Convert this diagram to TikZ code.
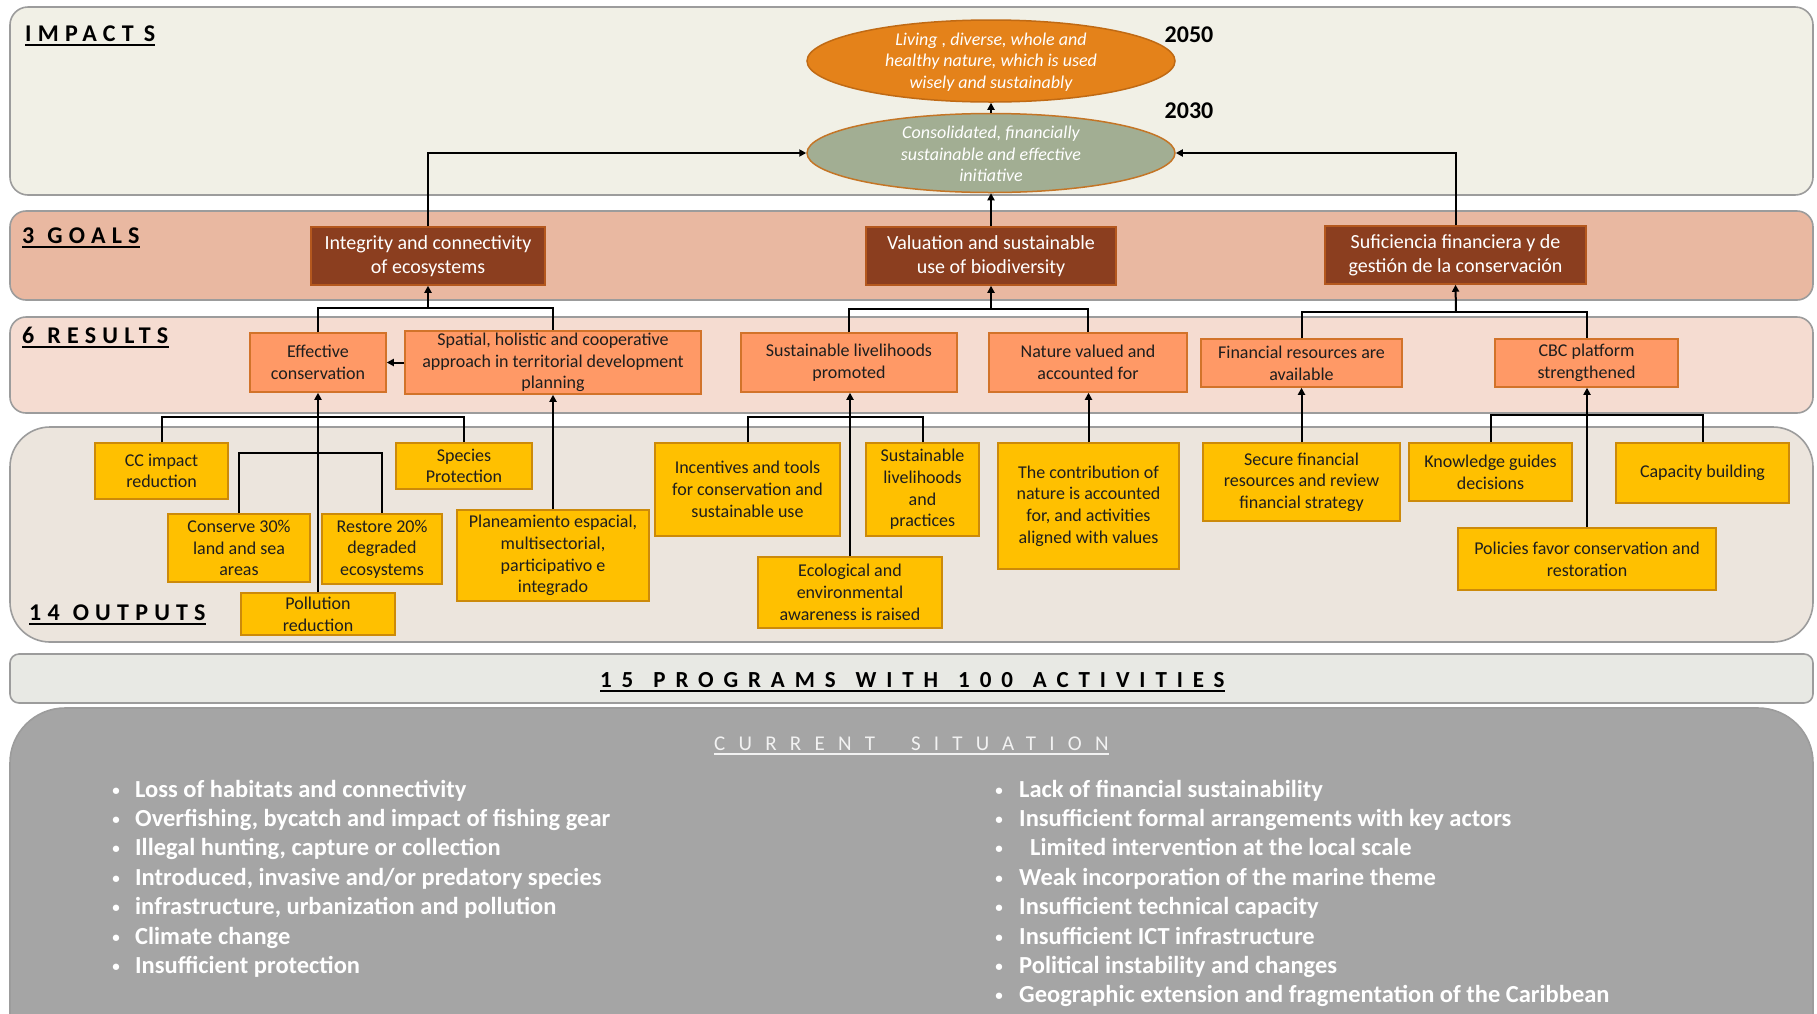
\documentclass[tikz,border=0pt]{standalone}
\usepackage{fontspec}
\setmainfont{Carlito}
\newfontfamily\tagfont[LetterSpace=26]{Carlito}
\newfontfamily\bandfont[LetterSpace=43]{Carlito}
\newfontfamily\sitfont[LetterSpace=63]{Carlito}
\usetikzlibrary{shapes.geometric,arrows.meta}

\definecolor{impactbg}{HTML}{F1F0E6}
\definecolor{goalbg}{HTML}{E9B8A1}
\definecolor{resultbg}{HTML}{F5DCD1}
\definecolor{outputbg}{HTML}{ECE5DD}
\definecolor{programbg}{HTML}{E8E9E4}
\definecolor{situationbg}{HTML}{A5A5A5}
\definecolor{panelline}{HTML}{9C9C9C}
\definecolor{goalfill}{HTML}{8B3E1F}
\definecolor{goalline}{HTML}{B4581E}
\definecolor{resultfill}{HTML}{FF9966}
\definecolor{resultline}{HTML}{D2732A}
\definecolor{outputfill}{HTML}{FFC000}
\definecolor{outputline}{HTML}{CC8A0A}
\definecolor{visionfill}{HTML}{E4821A}
\definecolor{visionline}{HTML}{C06A14}
\definecolor{missionfill}{HTML}{A2AE93}
\definecolor{missionline}{HTML}{C47526}
\definecolor{inktext}{HTML}{1E1E1E}
\definecolor{palewhite}{HTML}{F2F2F2}

% box from its corners: style, name, x1, y1, x2, y2, text
\newcommand{\placebox}[7]{%
  \node[#1, minimum width={#5-#3}, minimum height={#6-#4}] (#2)
    at ({(#3+#5)/2},{(#4+#6)/2}) {#7};}

\tikzset{
  panel/.style={draw=panelline, line width=1.6pt},
  tierlabel/.style={anchor=base west, inner sep=0pt, text=black,
    font=\tagfont\bfseries\fontsize{24}{28}\selectfont},
  ulrule/.style={line width=2pt},
  goalbox/.style={draw=goalline, fill=goalfill, line width=1.5pt, inner sep=0pt,
    align=center, text=white, font=\fontsize{20}{24}\selectfont},
  resultbox/.style={draw=resultline, fill=resultfill, line width=1.5pt, inner sep=0pt,
    align=center, text=inktext, font=\fontsize{18}{21.7}\selectfont},
  outputbox/.style={draw=outputline, fill=outputfill, line width=1.5pt, inner sep=0pt,
    align=center, text=inktext, font=\fontsize{18}{21.7}\selectfont},
  oval/.style={ellipse, line width=1.5pt, inner sep=0pt},
  ovaltext/.style={align=center, text=white, inner sep=0pt,
    font=\itshape\fontsize{18}{21.7}\selectfont},
  yearlabel/.style={inner sep=0pt, font=\bfseries\fontsize{24}{28}\selectfont},
  link/.style={line width=2pt, black},
  arr/.style={link, -{Triangle[length=7pt,width=7pt]}},
  bullettext/.style={anchor=base west, inner sep=0pt, text=white,
    font=\bfseries\fontsize{24.5}{29}\selectfont},
  bulletdot/.style={anchor=base, inner sep=0pt, text=white,
    font=\bfseries\fontsize{15}{15}\selectfont},
}

\begin{document}
\begin{tikzpicture}[x=1pt,y=-1pt]
\useasboundingbox[fill=white] (0,0) rectangle (1817,1013);

% ---------- horizontal bands ----------
\draw[panel, fill=impactbg, rounded corners=18] (10,7) rectangle (1813,195);
\draw[panel, fill=goalbg, rounded corners=16] (10,211) rectangle (1813,300);
\draw[panel, fill=resultbg, rounded corners=16] (10,317) rectangle (1813,413);
\draw[panel, fill=outputbg, rounded corners=40] (10,427) rectangle (1813,642);
\draw[panel, fill=programbg, rounded corners=9] (10,654) rectangle (1813,703);
\begin{scope}
  \clip (0,0) rectangle (1817,1013);
  \draw[panel, fill=situationbg, rounded corners=55] (10,708) rectangle (1813,1070);
\end{scope}

% ---------- band titles ----------
\node[tierlabel] (timp) at (25,41) {IMPACT\hspace{10pt}S};
\node[tierlabel] (tgoal) at (22,243) {3\hspace{13pt}GOALS};
\node[tierlabel] (tres) at (22,343) {6\hspace{13pt}RESULTS};
\node[tierlabel] (tout) at (29,620) {14\hspace{13pt}OUTPUTS};
\foreach \t in {timp,tgoal,tres,tout}
  \draw[ulrule] ([yshift=-4pt]\t.base west) -- ([yshift=-4pt]\t.base east);

\node[anchor=base west, inner sep=0pt, font=\bandfont\bfseries\fontsize{23}{27}\selectfont]
  (tprog) at (600,687)
  {15\hspace{20pt}PROGRAMS\hspace{20pt}WITH\hspace{20pt}100\hspace{20pt}ACTIVITIES};
\draw[ulrule] ([yshift=-4pt]tprog.base west) -- ([yshift=-4pt]tprog.base east);

\node[anchor=base west, inner sep=0pt, text=palewhite, font=\sitfont\fontsize{21}{25}\selectfont]
  (tsit) at (714,750) {CURRENT\hspace{36pt}SITUATION};
\draw[ulrule, palewhite] ([yshift=-4pt]tsit.base west) -- ([yshift=-4pt]tsit.base east);

% ---------- impacts ----------
\node[oval, fill=visionfill, draw=visionline, minimum width=368, minimum height=82]
  (vision) at (991,61) {};
\node[ovaltext] (visiontxt) at (991,62)
  {Living , diverse, whole and\\healthy nature, which is used\\wisely and sustainably};
\node[oval, fill=missionfill, draw=missionline, minimum width=368, minimum height=79]
  (mission) at (991,153) {};
\node[ovaltext] (missiontxt) at (991,154)
  {Consolidated, financially\\sustainable and effective\\initiative};
\node[yearlabel] (y2050) at (1189,35) {2050};
\node[yearlabel] (y2030) at (1189,111) {2030};

% ---------- goals ----------
\placebox{goalbox}{g1}{311}{227}{545}{285}{Integrity and connectivity\\of ecosystems}
\placebox{goalbox}{g2}{866}{227}{1116}{285}{Valuation and sustainable\\use of biodiversity}
\placebox{goalbox}{g3}{1325}{226}{1586}{284}{Suficiencia financiera y de\\gestión de la conservación}

% ---------- results ----------
\placebox{resultbox}{r1}{250}{333}{386}{392}{Effective\\conservation}
\placebox{resultbox}{r2}{405}{331}{701}{394}{Spatial, holistic and cooperative\\approach in territorial development\\planning}
\placebox{resultbox}{r3}{741}{333}{957}{392}{Sustainable livelihoods\\promoted}
\placebox{resultbox}{r4}{989}{333}{1187}{392}{Nature valued and\\accounted for}
\placebox{resultbox}{r5}{1201}{339}{1402}{387}{Financial resources are\\available}
\placebox{resultbox}{r6}{1495}{339}{1678}{387}{CBC platform\\strengthened}

% ---------- outputs ----------
\placebox{outputbox}{o1}{95}{443}{228}{499}{CC impact\\reduction}
\placebox{outputbox}{o2}{396}{443}{532}{489}{Species\\Protection}
\placebox{outputbox}{o3}{168}{514}{310}{582}{Conserve 30\%\\land and sea\\areas}
\placebox{outputbox}{o4}{322}{514}{442}{584}{Restore 20\%\\degraded\\ecosystems}
\placebox{outputbox}{o5}{241}{593}{395}{635}{Pollution\\reduction}
\placebox{outputbox}{o6}{457}{510}{649}{601}{Planeamiento espacial,\\multisectorial,\\participativo e\\integrado}
\placebox{outputbox}{o7}{655}{443}{840}{536}{Incentives and tools\\for conservation and\\sustainable use}
\placebox{outputbox}{o8}{866}{443}{979}{536}{Sustainable\\livelihoods\\and\\practices}
\placebox{outputbox}{o9}{758}{557}{942}{628}{Ecological and\\environmental\\awareness is raised}
\placebox{outputbox}{o10}{998}{443}{1179}{569}{The contribution of\\nature is accounted\\for, and activities\\aligned with values}
\placebox{outputbox}{o11}{1203}{443}{1400}{521}{Secure financial\\resources and review\\financial strategy}
\placebox{outputbox}{o12}{1409}{443}{1572}{501}{Knowledge guides\\decisions}
\placebox{outputbox}{o13}{1616}{443}{1789}{503}{Capacity building}
\placebox{outputbox}{o14}{1458}{528}{1716}{590}{Policies favor conservation and\\restoration}

% ---------- connectors: goals to impacts ----------
\draw[arr] (g1.north) |- (mission.west);
\draw[arr] (g3.north) |- (mission.east);
\draw[arr] (g2.north) -- (mission.south);
\draw[arr] (mission.north) -- (vision.south);

% ---------- connectors: results to goals ----------
\coordinate (j1) at (428,308);
\coordinate (j2) at (991,309);
\coordinate (j3) at (1456,312);
\draw[link] (r1.north) |- (j1) -| (r2.north);
\draw[arr] (j1) -- (g1.south);
\draw[link] (r3.north) |- (j2) -| (r4.north);
\draw[arr] (j2) -- (g2.south);
\draw[link] (r5.north) |- (j3) -| (r6.north);
\draw[arr] (j3) -- (g3.south);
\draw[arr] (r2.west) -- (r1.east);

% ---------- connectors: outputs to results ----------
\coordinate (k1) at (318,417);
\coordinate (k2) at (318,453);
\coordinate (k3) at (850,417);
\coordinate (k4) at (1587,415);
\draw[link] (o1.north) |- (k1) -| (o2.north);
\draw[link] (o3.north) |- (k2) -| (o4.north);
\draw[arr] (o5.north) -- (r1.south);
\draw[arr] (o6.north) -- (r2.south);
\draw[link] (o7.north) |- (k3) -| (o8.north);
\draw[arr] (o9.north) -- (o9.north |- r3.south);
\draw[arr] (o10.north) -- (o10.north |- r4.south);
\draw[arr] (o11.north) -- (o11.north |- r5.south);
\draw[link] (o12.north) |- (k4) -| (o13.north);
\draw[arr] (o14.north) -- (o14.north |- r6.south);

% ---------- current situation ----------
\foreach \t [count=\i] in {
    Loss of habitats and connectivity,
    {Overfishing, bycatch and impact of fishing gear},
    {Illegal hunting, capture or collection},
    {Introduced, invasive and/or predatory species},
    {infrastructure, urbanization and pollution},
    Climate change,
    Insufficient protection} {
  \node[bulletdot] (lb\i) at (116,{795+29.4*(\i-1)}) {•};
  \node[bullettext] (lt\i) at (135,{797+29.4*(\i-1)}) {\t};
}
\foreach \t [count=\i] in {
    Lack of financial sustainability,
    Insufficient formal arrangements with key actors,
    \hspace{11pt}Limited intervention at the local scale,
    Weak incorporation of the marine theme,
    Insufficient technical capacity,
    Insufficient ICT infrastructure,
    Political instability and changes,
    Geographic extension and fragmentation of the Caribbean} {
  \node[bulletdot] (rb\i) at (999,{795+29.4*(\i-1)}) {•};
  \node[bullettext] (rt\i) at (1019,{797+29.4*(\i-1)}) {\t};
}
\end{tikzpicture}
\end{document}
